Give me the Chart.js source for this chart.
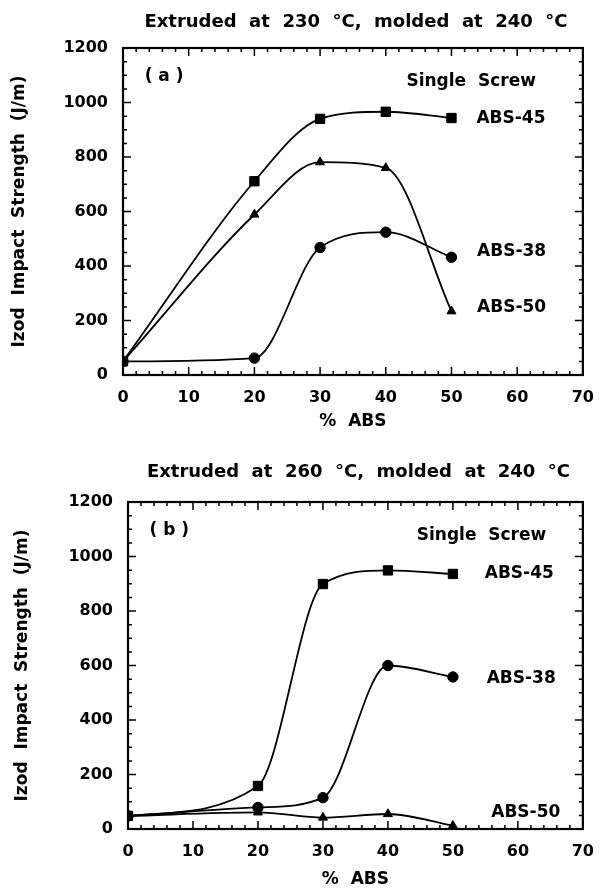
<!DOCTYPE html>
<html>
<head>
<meta charset="utf-8">
<script src="https://cdn.jsdelivr.net/npm/chart.js@4.4.0/dist/chart.umd.min.js"></script>
<style>
  html, body { margin: 0; padding: 0; background: #fff; }
  .panel { width: 607px; height: 445px; }
</style>
</head>
<body>
<div class="panel"><canvas id="chartA" width="607" height="445"></canvas></div>
<div class="panel"><canvas id="chartB" width="607" height="445"></canvas></div>
<script>
// % ABS in the blend (x values shared by every series)
const absPct = [0, 20, 30, 40, 50];

// (a) extruded at 230 C
const a_abs45 = [50, 711, 940, 966, 943];
const a_abs38 = [50, 62, 468, 524, 432];
const a_abs50 = [50, 589, 781, 760, 234];

// (b) extruded at 260 C
const b_abs45 = [48, 158, 899, 949, 936];
const b_abs38 = [48, 79, 115, 600, 558];
const b_abs50 = [48, 61, 42, 55, 12];

const xRange = [0, 70];
const yRange = [0, 1200];

const tickFont = { family: 'DejaVu Sans', size: 16, weight: 'bold', lineHeight: 1.2 };
const axisFont = { family: 'DejaVu Sans', size: 17, weight: 'bold', lineHeight: 1.2 };

function toPoints(ys) {
    return absPct.map((x, i) => ({ x: x, y: ys[i] }));
}

function makeDataset(label, ys, style) {
    return {
        label: label,
        data: toPoints(ys),
        borderColor: '#000',
        backgroundColor: '#000',
        borderWidth: 1.8,
        pointStyle: style,
        pointRadius: style === 'rect' ? 6.6 : 5.2,
        pointBorderWidth: 1,
        cubicInterpolationMode: 'monotone',
        fill: false
    };
}

// box with inward ticks on all four sides
const framePlugin = {
    id: 'frame',
    beforeDatasetsDraw(chart) {
        const { ctx, chartArea: a, scales: { x, y } } = chart;
        ctx.save();
        ctx.strokeStyle = '#000';
        ctx.lineWidth = 1.5;
        ctx.beginPath();
        for (let v = xRange[0]; v <= xRange[1]; v += 2) {
            const px = x.getPixelForValue(v);
            const len = v % 10 === 0 ? 8 : 4;
            ctx.moveTo(px, a.bottom); ctx.lineTo(px, a.bottom - len);
            ctx.moveTo(px, a.top); ctx.lineTo(px, a.top + len);
        }
        for (let v = yRange[0]; v <= yRange[1]; v += 50) {
            const py = y.getPixelForValue(v);
            const len = v % 200 === 0 ? 8 : 4;
            ctx.moveTo(a.left, py); ctx.lineTo(a.left + len, py);
            ctx.moveTo(a.right, py); ctx.lineTo(a.right - len, py);
        }
        ctx.stroke();
        ctx.lineWidth = 2.2;
        ctx.strokeRect(a.left, a.top, a.right - a.left, a.bottom - a.top);
        ctx.restore();
    }
};

// panel title and the in-plot labels
const notesPlugin = {
    id: 'notes',
    afterDraw(chart, args, opts) {
        const { ctx, chartArea: a, scales: { x, y } } = chart;
        ctx.save();
        ctx.fillStyle = '#000';
        ctx.textBaseline = 'middle';
        ctx.textAlign = 'center';
        ctx.font = 'bold 18px "DejaVu Sans"';
        ctx.fillText(opts.title, (a.left + a.right) / 2 + 3, opts.titleY);
        ctx.font = 'bold 17px "DejaVu Sans"';
        opts.notes.forEach(n => {
            ctx.textAlign = n.align;
            ctx.fillText(n.text, x.getPixelForValue(n.x), y.getPixelForValue(n.y));
        });
        ctx.restore();
    }
};

function makeChart(id, series, p) {
    return new Chart(document.getElementById(id), {
        type: 'line',
        data: {
            datasets: [
                makeDataset('ABS-45', series[0], 'rect'),
                makeDataset('ABS-38', series[1], 'circle'),
                makeDataset('ABS-50', series[2], 'triangle')
            ]
        },
        options: {
            responsive: false,
            animation: false,
            layout: { padding: { top: p.top, right: p.right, left: 0, bottom: 0 } },
            plugins: {
                legend: { display: false },
                tooltip: { enabled: false },
                notes: { title: p.title, titleY: p.titleY, notes: p.notes }
            },
            scales: {
                x: {
                    type: 'linear',
                    min: xRange[0], max: xRange[1],
                    ticks: { stepSize: 10, color: '#000', font: tickFont, padding: 13, maxRotation: 0 },
                    grid: { display: false, drawTicks: false },
                    border: { display: false },
                    title: { display: true, text: '%  ABS', color: '#000', font: axisFont, padding: { top: 0, bottom: p.xTitlePad } },
                    afterFit(scale) { scale.height = p.xHeight; }
                },
                y: {
                    min: yRange[0], max: yRange[1],
                    ticks: { stepSize: 200, color: '#000', font: tickFont, padding: 15, callback: v => String(v) },
                    grid: { display: false, drawTicks: false },
                    border: { display: false },
                    title: { display: true, text: 'Izod  Impact  Strength  (J/m)', color: '#000', font: axisFont, padding: { top: p.yTitlePad, bottom: 0 } },
                    afterFit(scale) { scale.width = p.left; }
                }
            }
        },
        plugins: [framePlugin, notesPlugin]
    });
}

makeChart('chartA', [a_abs45, a_abs38, a_abs50], {
    top: 48, right: 13, left: 123, xHeight: 70, xTitlePad: 13, yTitlePad: 9,
    title: 'Extruded  at  230  °C,  molded  at  240  °C', titleY: 22,
    notes: [
        { text: '( a )', x: 3.3, y: 1095, align: 'left' },
        { text: 'Single  Screw', x: 53.0, y: 1076, align: 'center' },
        { text: 'ABS-45', x: 53.8, y: 940, align: 'left' },
        { text: 'ABS-38', x: 53.9, y: 452, align: 'left' },
        { text: 'ABS-50', x: 53.9, y: 247, align: 'left' }
    ]
});

makeChart('chartB', [b_abs45, b_abs38, b_abs50], {
    top: 57, right: 11, left: 128, xHeight: 61, xTitlePad: 0, yTitlePad: 12,
    title: 'Extruded  at  260  °C,  molded  at  240  °C', titleY: 27,
    notes: [
        { text: '( b )', x: 3.3, y: 1096, align: 'left' },
        { text: 'Single  Screw', x: 54.4, y: 1078, align: 'center' },
        { text: 'ABS-45', x: 54.9, y: 937, align: 'left' },
        { text: 'ABS-38', x: 55.2, y: 553, align: 'left' },
        { text: 'ABS-50', x: 55.9, y: 62, align: 'left' }
    ]
});
</script>
</body>
</html>
